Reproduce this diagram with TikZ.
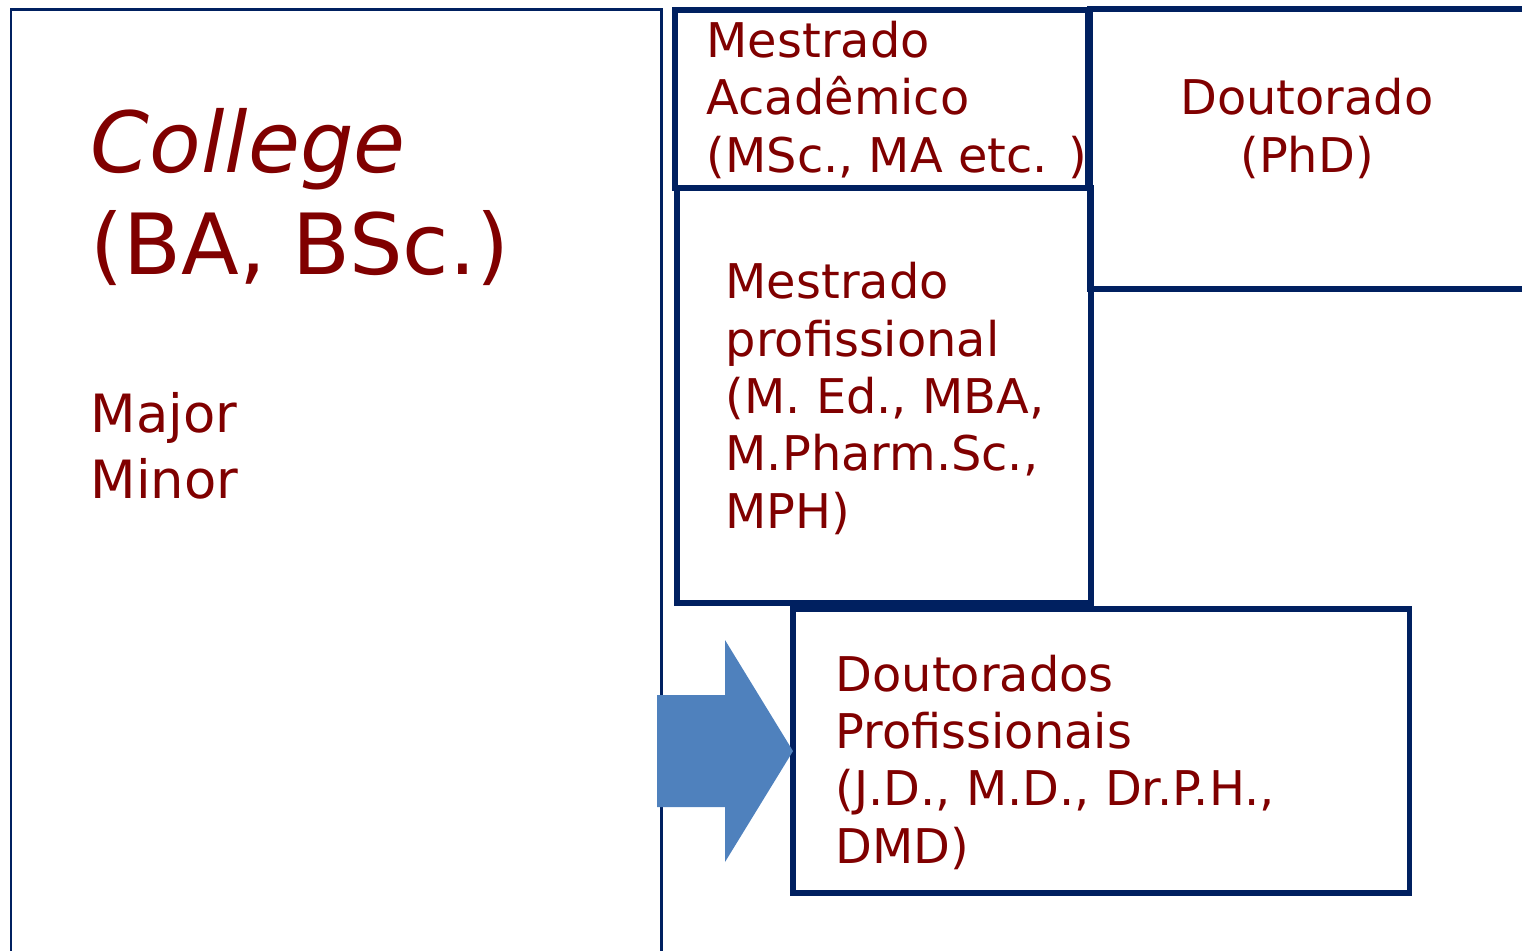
\documentclass[tikz,border=0pt]{standalone}
\usepackage{fontspec}
\setmainfont{DejaVu Sans}
\usetikzlibrary{positioning}

\definecolor{navy}{HTML}{002060}
\definecolor{wine}{HTML}{800000}
\definecolor{arrowblue}{HTML}{4F81BD}

\tikzstyle{box} = [rectangle, draw=navy, line width=1.6pt, inner sep=0pt, outer sep=0pt, anchor=north west]
\tikzstyle{thinbox} = [box, line width=0.85pt]
\tikzstyle{txt} = [text=wine, align=left, inner sep=0pt, anchor=base west, font=\fontsize{13.6}{16.3}\selectfont]
\tikzstyle{bigarrow} = [fill=arrowblue]

\begin{document}
\begin{tikzpicture}[x=0.01cm, y=-0.01cm]
    \useasboundingbox (0,0) rectangle (1522,950);

    % boxes
    \node[thinbox, minimum width=6.5cm, minimum height=9.6cm] (college) at (11,9) {};
    \node[box, minimum width=4.13cm, minimum height=1.78cm] (academico) at (675,10) {};
    \node[box, minimum width=4.4cm, minimum height=2.8cm] (doutorado) at (1090,9) {};
    \node[box, minimum width=4.14cm, minimum height=4.15cm] (profissional) at (677,188) {};
    \node[box, minimum width=6.16cm, minimum height=2.84cm] (doutprof) at (793,609) {};

    % texts (placed at the baseline of their last line)
    \node[txt, font=\fontsize{24}{29}\selectfont] (collegeT) at (90,274) {\textit{College}\\(BA, BSc.)};
    \node[txt, font=\fontsize{15}{18.5}\selectfont] (majorT) at (90,498) {Major\\Minor};
    \node[txt] (academicoT) at (706,172) {Mestrado\\Acadêmico\\(MSc., MA etc. )};
    \node[txt, align=center, anchor=base] (doutoradoT) at (1307,172) {Doutorado\\(PhD)};
    \node[txt] (profissionalT) at (725,528) {Mestrado\\profissional\\(M. Ed., MBA,\\M.Pharm.Sc.,\\MPH)};
    \node[txt] (doutprofT) at (835,863) {Doutorados\\Profissionais\\(J.D., M.D., Dr.P.H.,\\DMD)};

    % arrow
    \fill[bigarrow] (657,695) -- (725,695) -- (725,640) -- (doutprof.west) -- (725,862) -- (725,807) -- (657,807) -- cycle;
\end{tikzpicture}
\end{document}
